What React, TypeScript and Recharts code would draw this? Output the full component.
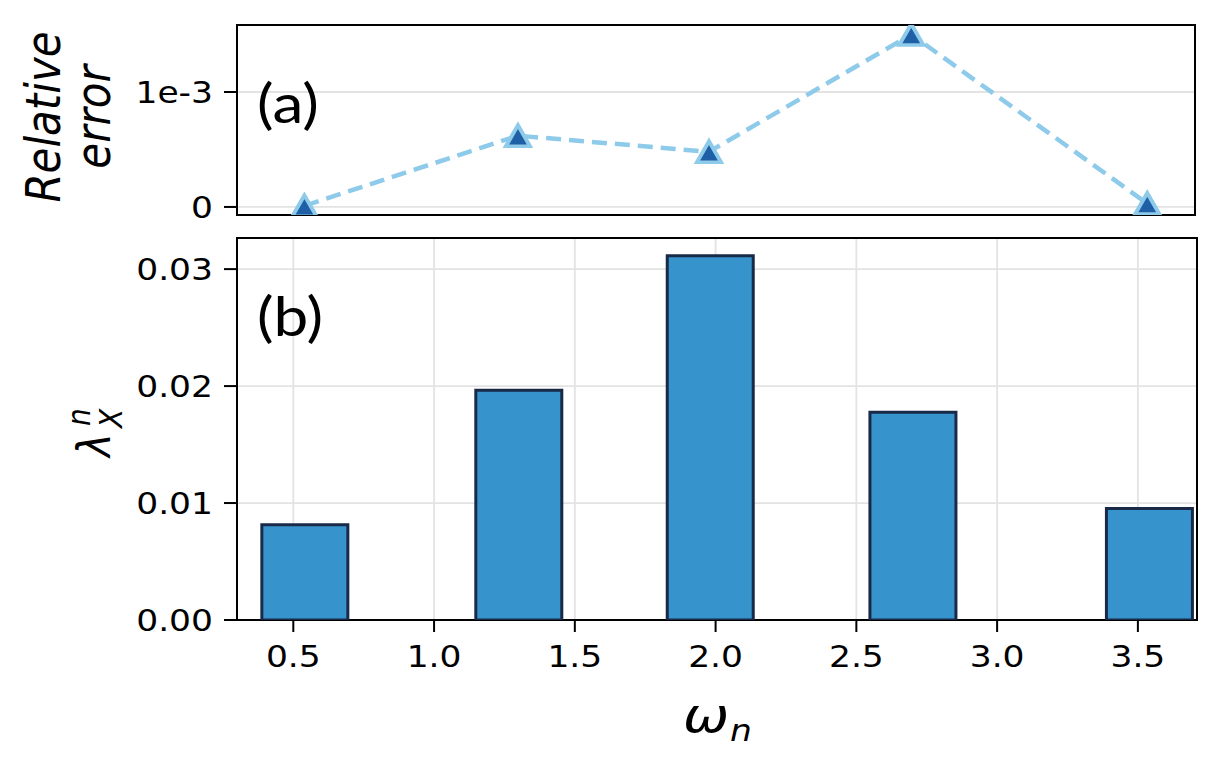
import React from "react";
import {
  ComposedChart,
  Line,
  Bar,
  XAxis,
  YAxis,
  CartesianGrid,
  ReferenceArea,
} from "recharts";

// omega_n positions shared by both panels
const omega = [0.54, 1.3, 1.98, 2.7, 3.54];
// panel (a): relative error
const relError = [0.00001, 0.00062, 0.00048, 0.0015, 0.00003];
// panel (b): lambda_X^n
const lambdaX = [0.00814, 0.01965, 0.03114, 0.01777, 0.00954];

const xTicks = [0.5, 1.0, 1.5, 2.0, 2.5, 3.0, 3.5];
const errTicks = [0, 0.001];
const lambdaTicks = [0, 0.01, 0.02, 0.03];

const xDomain = [0.3, 3.71];
const errDomain = [-0.00007, 0.001583];
const lambdaDomain = [0, 0.03266];

const rows = omega.map((w, i) => ({ w, err: relError[i], lam: lambdaX[i] }));

// the reference image is stretched sideways a little
const SX = 1.15;
const FONT = "DejaVu Sans";

function XTick(props: any) {
  const { x, y, payload } = props;
  return (
    <g transform={`translate(${x},${y + 35}) scale(${SX},1)`}>
      <text textAnchor="middle" fontSize={30} fontFamily={FONT} fill="#000">
        {Number(payload.value).toFixed(1)}
      </text>
    </g>
  );
}

function makeYTick(fmt: (v: number) => string) {
  return function YTick(props: any) {
    const { x, y, payload } = props;
    return (
      <g transform={`translate(${x - 11},${y + 11}) scale(${SX},1)`}>
        <text textAnchor="end" fontSize={30} fontFamily={FONT} fill="#000">
          {fmt(payload.value)}
        </text>
      </g>
    );
  };
}

const errTick = makeYTick((v) => (v === 0 ? "0" : "1e-3"));
const lamTick = makeYTick((v) => v.toFixed(2));

function renderTriangle(p: any) {
  const { cx, cy, index } = p;
  if (cx == null || cy == null) return <g key={`t-${index}`} />;
  const h = 10.5;
  const w = 10.5;
  const pts = `${cx},${cy - h} ${cx - w},${cy + h} ${cx + w},${cy + h}`;
  return (
    <polygon
      key={`t-${index}`}
      points={pts}
      transform={`translate(${cx},0) scale(${SX},1) translate(${-cx},0)`}
      fill="#1f5fa6"
      stroke="#8ecae9"
      strokeWidth={3.5}
    />
  );
}

function Txt({
  x,
  y,
  rot = 0,
  size,
  italic = false,
  anchor = "middle",
  family = FONT,
  children,
}: any) {
  return (
    <g transform={`translate(${x},${y}) scale(${SX},1) rotate(${rot})`}>
      <text
        textAnchor={anchor}
        fontSize={size}
        fontStyle={italic ? "italic" : "normal"}
        fontFamily={family}
        fill="#000"
      >
        {children}
      </text>
    </g>
  );
}

export default function App() {
  const tickLine = { stroke: "#000", strokeWidth: 2 };
  return (
    <div
      style={{
        position: "absolute",
        left: 0,
        top: 0,
        width: 1220,
        height: 766,
        background: "#fff",
        overflow: "hidden",
      }}
    >
      {/* (a) relative error */}
      <div style={{ position: "absolute", left: 0, top: 0 }}>
        <ComposedChart
          width={1220}
          height={232}
          data={rows}
          margin={{ top: 25, right: 25, bottom: 0, left: 0 }}
        >
          <CartesianGrid stroke="#e3e3e3" strokeWidth={1.8} />
          <XAxis
            type="number"
            dataKey="w"
            domain={xDomain}
            allowDataOverflow
            ticks={xTicks}
            height={17}
            tick={false}
            tickLine={false}
            axisLine={false}
          />
          <YAxis
            type="number"
            domain={errDomain}
            allowDataOverflow
            ticks={errTicks}
            width={237}
            tick={errTick}
            tickSize={13}
            tickMargin={0}
            tickLine={tickLine}
            axisLine={false}
          />
          <Line
            dataKey="err"
            stroke="#8ecae9"
            strokeWidth={4.5}
            strokeDasharray="15 8"
            dot={renderTriangle}
            activeDot={false}
            isAnimationActive={false}
          />
          <ReferenceArea
            x1={xDomain[0]}
            x2={xDomain[1]}
            y1={errDomain[0]}
            y2={errDomain[1]}
            fill="none"
            stroke="#000"
            strokeWidth={2}
            ifOverflow="visible"
          />
        </ComposedChart>
      </div>

      {/* (b) lambda bars */}
      <div style={{ position: "absolute", left: 0, top: 232 }}>
        <ComposedChart
          width={1220}
          height={480}
          data={rows}
          margin={{ top: 6, right: 23, bottom: 0, left: 0 }}
        >
          <CartesianGrid stroke="#e3e3e3" strokeWidth={1.8} />
          <XAxis
            type="number"
            dataKey="w"
            domain={xDomain}
            allowDataOverflow
            ticks={xTicks}
            height={92}
            tick={<XTick />}
            tickSize={12}
            tickMargin={0}
            tickLine={tickLine}
            axisLine={false}
          />
          <YAxis
            type="number"
            domain={lambdaDomain}
            allowDataOverflow
            ticks={lambdaTicks}
            width={237}
            tick={lamTick}
            tickSize={13}
            tickMargin={0}
            tickLine={tickLine}
            axisLine={false}
          />
          <Bar
            dataKey="lam"
            barSize={86}
            fill="#3793cb"
            stroke="#192a48"
            strokeWidth={3}
            isAnimationActive={false}
          />
          <ReferenceArea
            x1={xDomain[0]}
            x2={xDomain[1]}
            y1={lambdaDomain[0]}
            y2={lambdaDomain[1]}
            fill="none"
            stroke="#000"
            strokeWidth={2}
            ifOverflow="visible"
          />
        </ComposedChart>
      </div>

      {/* free text */}
      <svg
        width={1220}
        height={766}
        style={{ position: "absolute", left: 0, top: 0, pointerEvents: "none" }}
      >
        <Txt x={60} y={117} rot={-90} size={42} italic>
          Relative
        </Txt>
        <Txt x={110} y={117} rot={-90} size={42} italic>
          error
        </Txt>
        <Txt x={257} y={123} size={54} anchor="start" family="Lato">
          (a)
        </Txt>
        <Txt x={257} y={336} size={54} anchor="start" family="Lato">
          (b)
        </Txt>
        <Txt x={110} y={432} rot={-90} size={40} italic anchor="start">
          <tspan x={-25}>λ</tspan>
        </Txt>
        <Txt x={110} y={432} rot={-90} size={28} italic anchor="start">
          <tspan x={4} y={10}>
            X
          </tspan>
          <tspan x={6} y={-17}>
            n
          </tspan>
        </Txt>
        <Txt x={683} y={732} size={48} italic anchor="start">
          ω
        </Txt>
        <Txt x={730} y={741} size={30} italic anchor="start">
          n
        </Txt>
      </svg>
    </div>
  );
}
